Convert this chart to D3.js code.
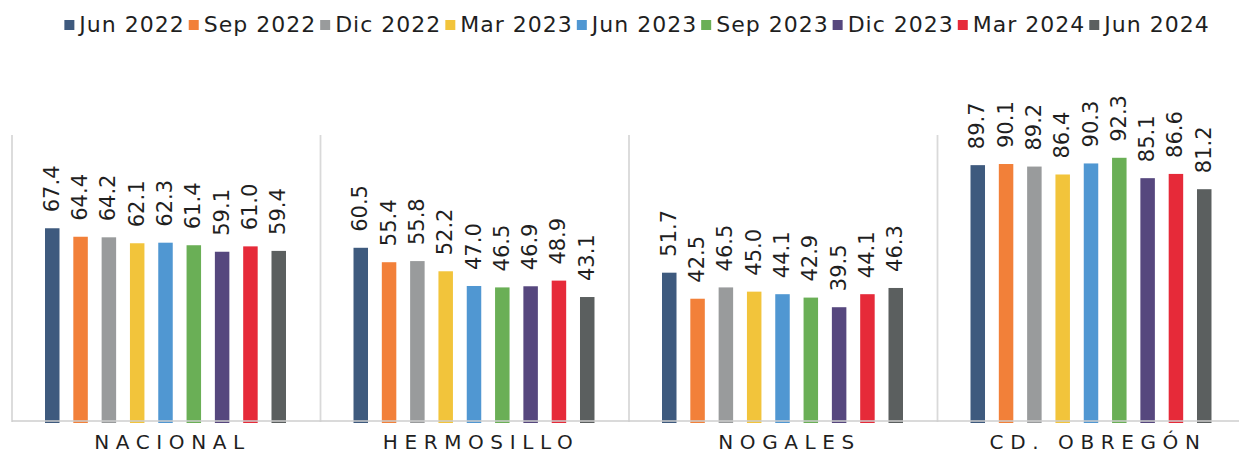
<!DOCTYPE html>
<html>
<head>
<meta charset="utf-8">
<script src="https://cdn.jsdelivr.net/npm/d3@7"></script>
<style>
  html, body { margin: 0; padding: 0; background: #ffffff; }
  svg { display: block; }
  text { font-family: "DejaVu Sans", sans-serif; fill: #1f1f1f; }
</style>
</head>
<body>
<svg id="chart" width="1239" height="454"></svg>
<script>
const categories = ["NACIONAL", "HERMOSILLO", "NOGALES", "CD. OBREGÓN"];
const seriesNames = ["Jun 2022", "Sep 2022", "Dic 2022", "Mar 2023", "Jun 2023", "Sep 2023", "Dic 2023", "Mar 2024", "Jun 2024"];
const seriesColors = ["#3E5A7E", "#F28039", "#999B9C", "#F2C43B", "#5097D2", "#6AAF56", "#56477E", "#E62A39", "#5B5F5F"];
const nacional   = [67.4, 64.4, 64.2, 62.1, 62.3, 61.4, 59.1, 61.0, 59.4];
const hermosillo = [60.5, 55.4, 55.8, 52.2, 47.0, 46.5, 46.9, 48.9, 43.1];
const nogales    = [51.7, 42.5, 46.5, 45.0, 44.1, 42.9, 39.5, 44.1, 46.3];
const obregon    = [89.7, 90.1, 89.2, 86.4, 90.3, 92.3, 85.1, 86.6, 81.2];
const valuesByCategory = [nacional, hermosillo, nogales, obregon];

const svg = d3.select("#chart");

const plotLeft = 12, groupW = 308.5;
const x0 = d3.scaleBand().domain(categories)
  .range([plotLeft, plotLeft + groupW * categories.length]).padding(0);
const x1 = d3.scaleBand().domain(seriesNames)
  .range([26.1, 280.9]).paddingInner(0.488).paddingOuter(0.244);
const y = d3.scaleLinear().domain([0, 100]).range([419, 136]);

// group dividers
const dividers = categories.map(c => x0(c)).concat([x0.range()[1]]);
svg.append("g").selectAll("line").data(dividers).join("line")
  .attr("x1", d => d).attr("x2", d => d)
  .attr("y1", y(100) - 1).attr("y2", y(0) + 3)
  .attr("stroke", "#d9d9d9").attr("stroke-width", 1.8);

// bars
const groups = svg.append("g").selectAll("g").data(categories).join("g")
  .attr("transform", d => `translate(${x0(d)},0)`);

groups.selectAll("rect")
  .data((c, ci) => seriesNames.map((s, si) => ({ s, si, v: valuesByCategory[ci][si] })))
  .join("rect")
  .attr("x", d => x1(d.s))
  .attr("width", x1.bandwidth())
  .attr("y", d => y(d.v))
  .attr("height", d => y(0) + 4 - y(d.v))
  .attr("fill", d => seriesColors[d.si]);

// value labels (rotated)
groups.selectAll("text.val")
  .data((c, ci) => seriesNames.map((s, si) => ({ s, si, v: valuesByCategory[ci][si] })))
  .join("text")
  .attr("class", "val")
  .attr("transform", d => `translate(${x1(d.s) + x1.bandwidth() / 2 - 1},${y(d.v) - 16}) rotate(-90)`)
  .attr("dy", "0.36em")
  .attr("text-anchor", "start")
  .style("font-size", "21px")
  .text(d => d.v.toFixed(1));

// baseline axis
svg.append("line")
  .attr("x1", plotLeft).attr("x2", 1239)
  .attr("y1", y(0) + 2).attr("y2", y(0) + 2)
  .attr("stroke", "rgba(205,205,205,0.75)").attr("stroke-width", 2.2);

// category labels
const ls = 6.6;
svg.append("g").selectAll("text").data(categories).join("text")
  .attr("x", d => x0(d) + x0.bandwidth() / 2 + 3 + ls / 2)
  .attr("y", 449)
  .attr("text-anchor", "middle")
  .style("font-size", "20px")
  .style("letter-spacing", ls + "px")
  .text(d => d);

// legend
const legend = svg.append("g");
const items = legend.selectAll("g").data(seriesNames).join("g");
items.append("rect").attr("width", 10).attr("height", 10).attr("y", 20)
  .attr("fill", (d, i) => seriesColors[i]);
items.append("text").attr("x", 15).attr("y", 32)
  .style("font-size", "22px").style("letter-spacing", "1px")
  .text(d => d);
let xpos = 0;
const offsets = [];
items.each(function () {
  offsets.push(xpos);
  const w = d3.select(this).select("text").node().getComputedTextLength();
  xpos += 15 + w + 4;
});
const total = xpos - 4;
const startX = 637 - total / 2;
items.attr("transform", (d, i) => `translate(${startX + offsets[i]},0)`);
</script>
</body>
</html>
